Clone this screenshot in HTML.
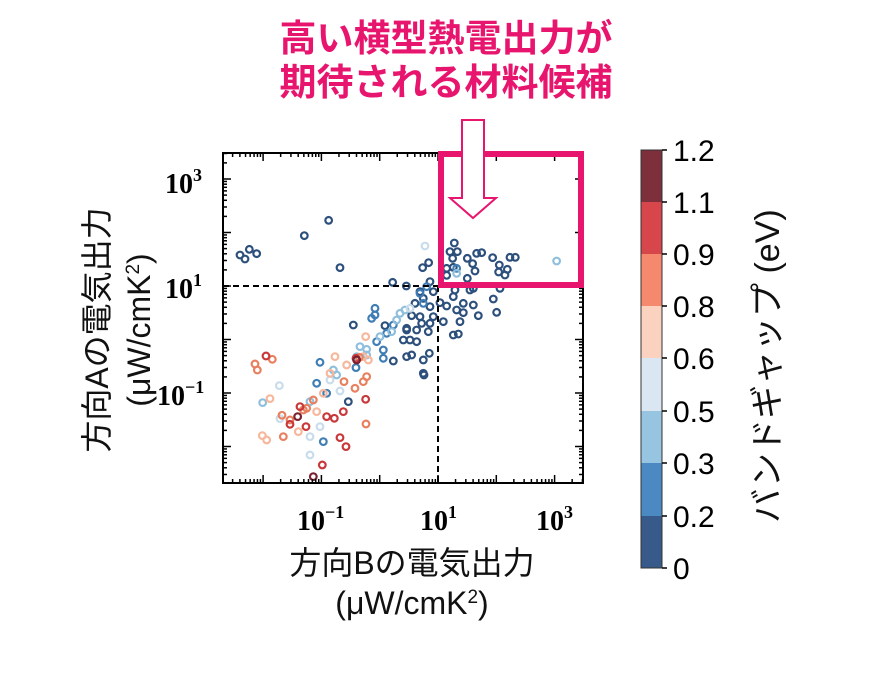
<!DOCTYPE html>
<html><head><meta charset="utf-8"><style>
html,body{margin:0;padding:0;background:#fff;}
svg{display:block;}
</style></head><body>
<svg id="s" width="894" height="696" xmlns="http://www.w3.org/2000/svg">
<rect width="894" height="696" fill="#fff"/>
<g font-family="'Liberation Sans','Noto Sans CJK JP',sans-serif" font-weight="bold" fill="#e8156e" font-size="37" text-anchor="middle">
<text x="446" y="51">高い横型熱電出力が</text>
<text x="446" y="95">期待される材料候補</text>
</g>
<g id="pts" transform="translate(220,140) scale(0.3333)" fill="none" stroke-width="6.5"></g>
<line x1="223" y1="286" x2="438" y2="286" stroke="#000" stroke-width="2" stroke-dasharray="6,4"/>
<line x1="438" y1="286" x2="438" y2="483" stroke="#000" stroke-width="2" stroke-dasharray="6,4"/>
<rect x="223" y="153" width="360" height="330" fill="none" stroke="#000" stroke-width="2"/>
<g id="ticks" stroke="#000" stroke-width="1.5"></g>
<g font-family="'Liberation Serif',serif" font-weight="bold" font-size="28" fill="#000">
<text x="165" y="193">10<tspan dy="-12" font-size="18">3</tspan></text>
<text x="165" y="298">10<tspan dy="-12" font-size="18">1</tspan></text>
<text x="157" y="405">10<tspan dy="-12" font-size="18">−1</tspan></text>
<text x="297" y="530">10<tspan dy="-12" font-size="18">−1</tspan></text>
<text x="420" y="530">10<tspan dy="-12" font-size="18">1</tspan></text>
<text x="536" y="530">10<tspan dy="-12" font-size="18">3</tspan></text>
</g>
<rect x="441" y="154" width="140" height="131" fill="none" stroke="#e8156e" stroke-width="6"/>
<path d="M462,120 L484,120 L484,198 L496,198 L473,218 L450,198 L462,198 Z" fill="#fff" stroke="#e8156e" stroke-width="2"/>
<g font-family="'Liberation Sans','Noto Sans CJK JP',sans-serif" font-size="32" fill="#111" text-anchor="middle">
<text x="412" y="574">方向Bの電気出力</text>
<text x="412" y="614">(μW/cmK<tspan dy="-11" font-size="19">2</tspan><tspan dy="11">)</tspan></text>
<g transform="translate(108,330) rotate(-90)"><text x="0" y="0">方向Aの電気出力</text></g>
<g transform="translate(150,330) rotate(-90)"><text x="0" y="0">(μW/cmK<tspan dy="-11" font-size="19">2</tspan><tspan dy="11">)</tspan></text></g>
</g>
<rect x="641" y="150" width="21" height="52" fill="#7e2f3c"/>
<rect x="641" y="202" width="21" height="52" fill="#d6464b"/>
<rect x="641" y="254" width="21" height="52" fill="#f5896d"/>
<rect x="641" y="306" width="21" height="52" fill="#fbd2c0"/>
<rect x="641" y="358" width="21" height="53" fill="#dae6f2"/>
<rect x="641" y="411" width="21" height="52" fill="#97c4e0"/>
<rect x="641" y="463" width="21" height="53" fill="#4b89c2"/>
<rect x="641" y="516" width="21" height="52" fill="#375a8a"/>
<rect x="641" y="150" width="21" height="418" fill="none" stroke="#333" stroke-width="1"/>
<g stroke="#000" stroke-width="1.5">
<line x1="662" y1="150" x2="667" y2="150"/><line x1="662" y1="202" x2="667" y2="202"/><line x1="662" y1="254" x2="667" y2="254"/><line x1="662" y1="306" x2="667" y2="306"/><line x1="662" y1="358" x2="667" y2="358"/><line x1="662" y1="411" x2="667" y2="411"/><line x1="662" y1="463" x2="667" y2="463"/><line x1="662" y1="516" x2="667" y2="516"/><line x1="662" y1="568" x2="667" y2="568"/>
</g>
<g font-family="'Liberation Sans',sans-serif" font-size="30" fill="#000">
<text x="673" y="161">1.2</text><text x="673" y="213">1.1</text><text x="673" y="265">0.9</text><text x="673" y="317">0.8</text><text x="673" y="369">0.6</text><text x="673" y="422">0.5</text><text x="673" y="474">0.3</text><text x="673" y="527">0.2</text><text x="673" y="579">0</text>
</g>
<g transform="translate(779,366) rotate(-90)" font-family="'Liberation Sans','Noto Sans CJK JP',sans-serif" font-size="34" fill="#111" text-anchor="middle"><text x="0" y="0">バンドギャップ (eV)</text></g>
</svg>
<script>
var NS="http://www.w3.org/2000/svg";
var C={D:"#2c4f7c",M:"#3f7db5",L:"#8fbfdc",VL:"#c9dcec",P:"#f6b79c",O:"#e8805f",R:"#c8383a",DR:"#7a2030"};
var P={
D:[[60,345],[75,357],[88,328],[110,341],[253,287],[326,241],[360,383],[518,427],[559,438],[608,383],[626,368],[703,309],[690,335],[712,335],[698,355],[742,355],[770,340],[785,338],[818,353],[870,352],[886,352],[758,371],[838,375],[862,388],[836,396],[855,405],[742,415],[765,393],[700,382],[680,406],[630,425],[640,455],[600,455],[585,490],[610,475],[630,500],[660,488],[680,498],[700,470],[730,490],[760,495],[775,527],[820,477],[830,517],[705,450],[750,450],[730,518],[720,545],[700,585],[715,582],[670,545],[640,530],[630,550],[605,550],[590,570],[560,565],[550,600],[570,600],[590,605],[625,575],[600,530],[575,527],[560,570],[628,640],[610,660],[575,645],[560,650],[610,700],[612,705],[520,663],[495,557],[400,555],[385,785],[680,385],[840,445],[760,445],[710,510]],
M:[[465,505],[465,525],[455,535],[520,555],[500,580],[470,605],[490,630],[490,655],[300,667],[408,683],[290,730],[320,760],[310,905],[600,460],[610,490],[710,385],[620,440]],
L:[[1010,363],[710,400],[540,520],[530,540],[555,510],[440,628],[440,645],[410,650],[340,690],[350,705],[128,788],[270,785],[420,620],[480,590],[515,575]],
VL:[[615,318],[570,505],[178,737],[360,753],[330,720],[300,860],[270,945],[270,890],[180,836]],
P:[[437,590],[345,650],[430,650],[445,660],[310,760],[150,776],[290,815],[127,887],[140,900],[235,875],[330,700],[380,675]],
O:[[105,672],[112,690],[157,658],[418,652],[440,710],[430,725],[372,725],[405,745],[438,852],[186,826],[210,840],[190,890],[260,805],[250,810],[280,780]],
R:[[138,648],[408,655],[437,778],[370,815],[343,835],[320,830],[240,800],[258,860],[210,853],[360,893],[378,920],[307,975]],
DR:[[233,830],[280,1010],[410,660]]};
var g=document.getElementById("pts");
for(var k in P){P[k].forEach(function(p){var c=document.createElementNS(NS,"circle");c.setAttribute("cx",p[0]);c.setAttribute("cy",p[1]);c.setAttribute("r",10);c.setAttribute("stroke",C[k]);g.appendChild(c);});}
var t=document.getElementById("ticks");
function L(x1,y1,x2,y2){var l=document.createElementNS(NS,"line");l.setAttribute("x1",x1);l.setAttribute("y1",y1);l.setAttribute("x2",x2);l.setAttribute("y2",y2);t.appendChild(l);}
for(var e=-3;e<=3;e++){for(var m=1;m<10;m++){var v=e+Math.log10(m);var len=m==1?8:4;
var x=438+58.3*(v-1);if(x>223&&x<583){L(x,483,x,483-len);L(x,153,x,153+len);}
var y=286-53.5*(v-1);if(y>153&&y<483){L(223,y,223+len,y);L(583,y,583-len,y);}}}
</script>
</body></html>
